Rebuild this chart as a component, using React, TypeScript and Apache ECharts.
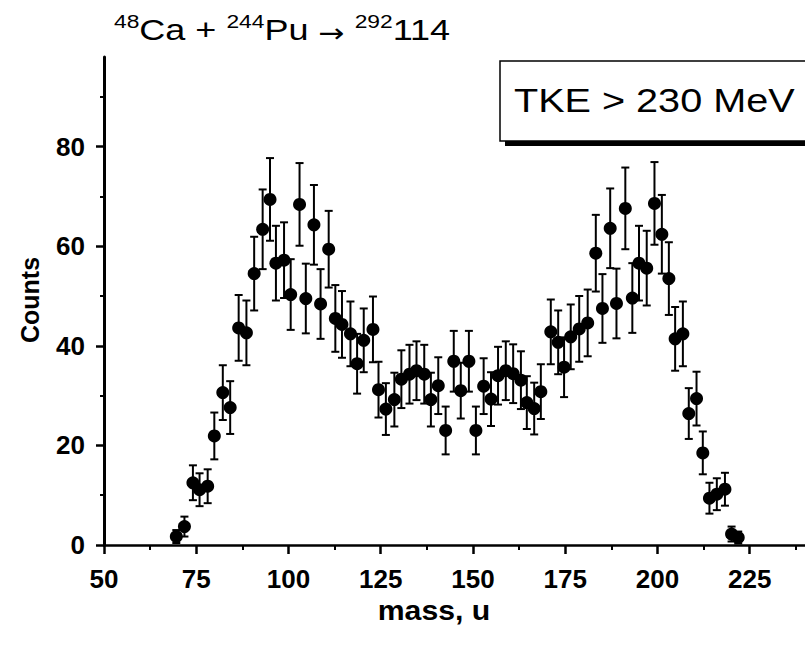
import React, { useEffect, useRef } from "react";
import * as echarts from "echarts";

const masses = [69.6, 71.8, 74.1, 75.9, 78.1, 79.9, 82.2, 84.2, 86.5, 88.6, 90.7, 93.0, 95.0, 96.6, 98.8, 100.6, 103.0, 104.7, 106.9, 108.7, 110.9, 112.7, 114.5, 116.8, 118.6, 120.4, 122.9, 124.4, 126.4, 128.7, 130.6, 132.8, 134.7, 136.8, 138.6, 140.6, 142.6, 144.8, 146.7, 148.9, 150.8, 152.9, 154.9, 156.8, 158.9, 160.9, 163.0, 164.6, 166.6, 168.4, 171.1, 173.1, 174.7, 176.5, 178.8, 181.1, 183.3, 185.1, 187.2, 188.9, 191.3, 193.2, 195.0, 197.1, 199.2, 201.2, 203.1, 204.8, 206.9, 208.5, 210.6, 212.3, 214.1, 216.1, 218.3, 220.1, 221.9];
const counts = [1.7, 3.7, 12.5, 11.1, 11.8, 21.9, 30.6, 27.6, 43.6, 42.6, 54.5, 63.4, 69.4, 56.6, 57.2, 50.3, 68.4, 49.5, 64.3, 48.4, 59.4, 45.5, 44.3, 42.4, 36.4, 41.1, 43.3, 31.2, 27.3, 29.2, 33.3, 34.3, 35.0, 34.3, 29.2, 32.0, 23.0, 36.9, 31.0, 36.9, 23.0, 31.9, 29.3, 34.0, 35.0, 34.4, 33.1, 28.6, 27.4, 30.8, 42.8, 40.7, 35.7, 41.8, 43.4, 44.6, 58.6, 47.5, 63.6, 48.5, 67.6, 49.6, 56.6, 55.6, 68.6, 62.4, 53.5, 41.4, 42.4, 26.4, 29.4, 18.5, 9.4, 10.2, 11.2, 2.2, 1.5];
const errors = [1.3, 2.0, 3.5, 3.3, 3.4, 4.7, 5.5, 5.3, 6.6, 6.5, 7.4, 8.0, 8.3, 7.5, 7.6, 7.1, 8.3, 7.0, 8.0, 7.0, 7.7, 6.7, 6.7, 6.5, 6.0, 6.4, 6.6, 5.6, 5.2, 5.4, 5.8, 5.9, 5.9, 5.9, 5.4, 5.7, 4.8, 6.1, 5.6, 6.1, 4.8, 5.6, 5.4, 5.8, 5.9, 5.9, 5.8, 5.3, 5.2, 5.5, 6.5, 6.4, 6.0, 6.5, 6.6, 6.7, 7.7, 6.9, 8.0, 7.0, 8.2, 7.0, 7.5, 7.5, 8.3, 7.9, 7.3, 6.4, 6.5, 5.1, 5.4, 4.3, 3.1, 3.2, 3.3, 1.5, 1.2];

const xTicks = [50, 75, 100, 125, 150, 175, 200, 225];
const yTicks = [0, 20, 40, 60, 80];

const FONT = "'Liberation Sans', Arial, sans-serif";

export default function App() {
  const ref = useRef<HTMLDivElement>(null);
  useEffect(() => {
    if (!ref.current) return;
    const chart = echarts.init(ref.current, null, { renderer: "svg" });
    const pts = masses.map((m, i) => [m, counts[i]]);
    const errData = masses.map((m, i) => [m, counts[i], errors[i]]);
    chart.setOption({
      animation: false,
      backgroundColor: "#fff",
      grid: { left: 104, top: 57, width: 705, height: 488 },
      xAxis: {
        type: "value",
        min: 50,
        max: 240,
        interval: 25,
        axisLine: { show: true, onZero: false, lineStyle: { color: "#000", width: 2.5 } },
        axisTick: { show: true, customValues: xTicks, length: 9, lineStyle: { color: "#000", width: 2.5 } },
        minorTick: { show: true, splitNumber: 2, length: 5, lineStyle: { color: "#000", width: 2 } },
        axisLabel: {
          customValues: xTicks,
          formatter: (v: number) => (v % 25 === 0 ? String(v) : ""),
          margin: 21,
          color: "#000",
          fontSize: 26,
          fontWeight: "bold",
          fontFamily: FONT,
        },
        splitLine: { show: false },
      },
      yAxis: {
        type: "value",
        min: 0,
        max: 98,
        interval: 20,
        axisLine: { show: true, lineStyle: { color: "#000", width: 3 } },
        axisTick: { show: true, customValues: yTicks, length: 8, lineStyle: { color: "#000", width: 2.5 } },
        minorTick: { show: true, splitNumber: 2, length: 4, lineStyle: { color: "#000", width: 2 } },
        axisLabel: {
          customValues: yTicks,
          formatter: (v: number) => (v % 20 === 0 ? String(v) : ""),
          margin: 19,
          color: "#000",
          fontSize: 26,
          fontWeight: "bold",
          fontFamily: FONT,
        },
        splitLine: { show: false },
      },
      graphic: [
        {
          type: "text",
          x: 114,
          y: 11.5,
          scaleX: 1.2,
          style: {
            text: "{s|48}{m|Ca + }{s|244}{m|Pu }{a|→}{m| }{s|292}{m|114}",
            fill: "#000",
            verticalAlign: "top",
            rich: {
              m: { fontSize: 30, fontFamily: FONT, lineHeight: 36, verticalAlign: "middle", fill: "#000" },
              s: { fontSize: 19, fontFamily: FONT, lineHeight: 12, verticalAlign: "top", fill: "#000" },
              a: { fontSize: 26, fontFamily: "'DejaVu Sans', sans-serif", lineHeight: 36, verticalAlign: "middle", padding: [6, 0, 0, 0], fill: "#000" },
            },
          },
        },
        { type: "rect", shape: { x: 505, y: 139, width: 320, height: 7 }, style: { fill: "#000" } },
        { type: "rect", shape: { x: 500, y: 61, width: 320, height: 80 }, style: { fill: "#fff", stroke: "#000", lineWidth: 1.5 } },
        { type: "text", x: 514, y: 101, scaleX: 1.2, style: { text: "TKE > 230 MeV", fontSize: 33, fontFamily: FONT, fill: "#000", verticalAlign: "middle" } },
        { type: "text", x: 30, y: 300, rotation: Math.PI / 2, style: { text: "Counts", fontSize: 25, fontWeight: "bold", fontFamily: FONT, fill: "#000", align: "center", verticalAlign: "middle" } },
        { type: "text", x: 434, y: 611, scaleX: 1.12, style: { text: "mass, u", fontSize: 27, fontWeight: "bold", fontFamily: FONT, fill: "#000", align: "center", verticalAlign: "middle" } },
      ],
      series: [
        {
          type: "custom",
          data: errData,
          renderItem: (params: any, api: any) => {
            const x = api.value(0);
            const y = api.value(1);
            const e = api.value(2);
            const top = api.coord([x, y + e]);
            const bot = api.coord([x, Math.max(0, y - e)]);
            const st = { stroke: "#000", lineWidth: 2 };
            return {
              type: "group",
              children: [
                { type: "line", shape: { x1: top[0], y1: top[1], x2: bot[0], y2: bot[1] }, style: st },
                { type: "line", shape: { x1: top[0] - 4, y1: top[1], x2: top[0] + 4, y2: top[1] }, style: st },
                { type: "line", shape: { x1: bot[0] - 4, y1: bot[1], x2: bot[0] + 4, y2: bot[1] }, style: st },
              ],
            };
          },
          z: 2,
        },
        {
          type: "scatter",
          data: pts,
          symbol: "circle",
          symbolSize: 13,
          itemStyle: { color: "#000", opacity: 1 },
          z: 3,
        },
      ],
    });
    return () => chart.dispose();
  }, []);
  return <div ref={ref} style={{ position: "fixed", left: 0, top: 0, width: 805, height: 650 }} />;
}
